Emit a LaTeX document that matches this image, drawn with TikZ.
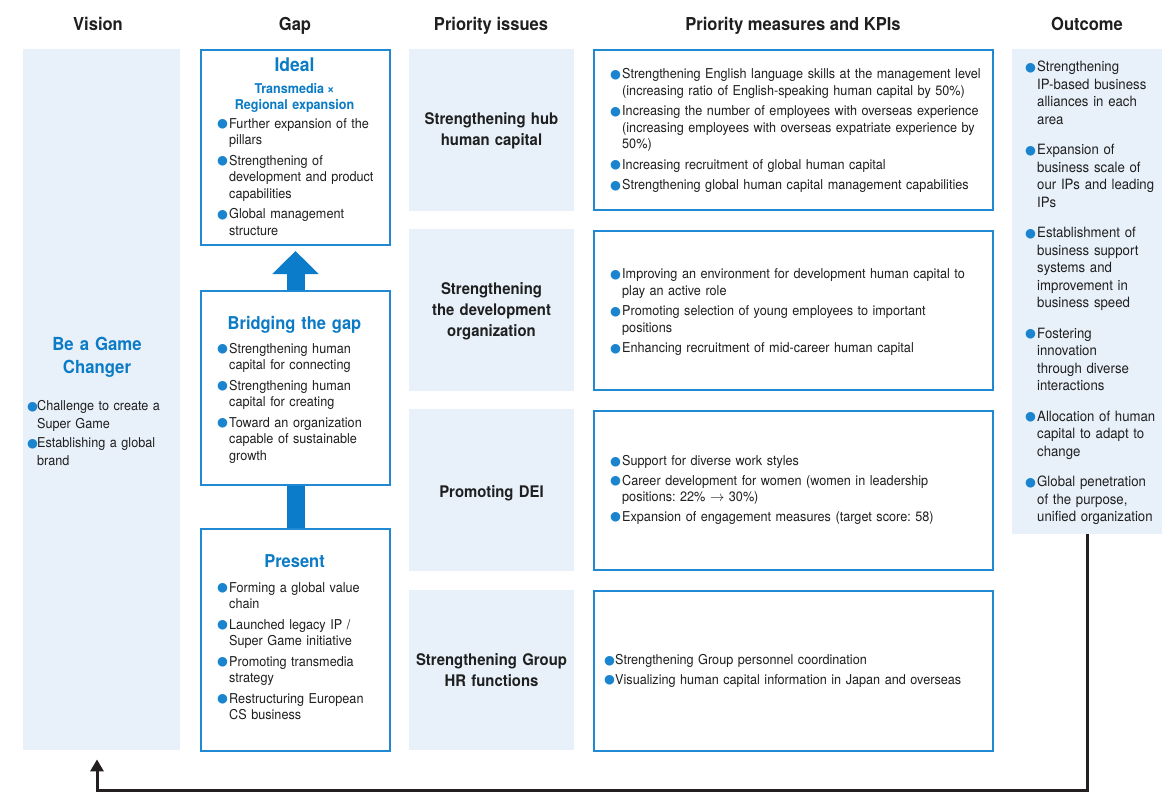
\documentclass[tikz,border=0pt]{standalone}
\usepackage{fontspec}
\setmainfont{TeX Gyre Heros}[FakeStretch=0.93]
\newfontfamily\dejavu{DejaVu Sans}
\usetikzlibrary{arrows.meta}
\definecolor{panelfill}{HTML}{E8F1FA}
\definecolor{boxblue}{HTML}{2189D3}
\definecolor{titleblue}{HTML}{0B7BC6}
\definecolor{bulblue}{HTML}{1B84CF}
\definecolor{arrowblue}{HTML}{0A7CCA}
\definecolor{txt}{HTML}{1F1F1F}
\definecolor{fbline}{HTML}{231F20}
\frenchspacing
\newlength\bind
\newlength\itemgap
\newcommand\bul{\raisebox{0.4pt}{\textcolor{bulblue}{\dejavu\fontsize{12.5}{12.5}\selectfont ●}}}
\newcommand\bi[1]{\noindent\hangindent=\bind\hangafter=1\makebox[\bind][l]{\bul}#1}
\newcommand\bn[1]{\par\vskip\itemgap\bi{#1}}
\newcommand\lsetup[2]{\setlength\parskip{0pt}\setlength\itemgap{#1}\setlength\bind{#2}}
\newcommand\nl{\newline}
\tikzset{
  panel/.style={anchor=north west, fill=panelfill, draw=none, inner sep=0pt},
  gbox/.style={anchor=north west, fill=white, draw=boxblue, line width=2pt, inner sep=0pt},
  hdr/.style={anchor=base, inner sep=0pt, text=txt, font=\fontsize{17.8}{20}\selectfont\bfseries},
  ttl/.style={anchor=base, inner sep=0pt, text=titleblue, font=\fontsize{18}{23}\selectfont\bfseries, align=center, text width=170pt},
  subttl/.style={anchor=base, inner sep=0pt, text=titleblue, font=\fontsize{13.5}{16}\selectfont\bfseries, align=center, text width=180pt},
  iss/.style={anchor=base, inner sep=0pt, text=txt, font=\fontsize{16}{21}\selectfont\bfseries, align=center, text width=165pt},
  lst/.style={anchor=base west, inner sep=0pt, text=txt, align=left, text width=#1, font=\fontsize{13.6}{16.5}\selectfont},
  olst/.style={anchor=base west, inner sep=0pt, text=txt, align=left, text width=#1, font=\fontsize{14.2}{17.5}\selectfont},
  blockarrow/.style={line width=18pt, draw=arrowblue},
  fb/.style={line width=3pt, draw=fbline, -{Triangle[width=13pt,length=12pt]}, shorten >=9pt},
}
\begin{document}
\begin{tikzpicture}[x=1pt,y=-1pt]
\useasboundingbox (0,0) rectangle (1176,809);
\fill[white] (0,0) rectangle (1176,809);

% headers
\node[hdr] (hvision) at (98,30) {Vision};
\node[hdr] (hgap) at (295,30) {Gap};
\node[hdr] (hiss) at (491,30) {Priority issues};
\node[hdr] (hkpi) at (793,30) {Priority measures and KPIs};
\node[hdr] (hout) at (1087,30) {Outcome};

% vision
\node[panel, minimum width=157pt, minimum height=701pt] (vision) at (23,49) {};
\node[ttl] (vtitle) at (97,350.5) {Be a Game\\Changer};
\node[lst=150pt, font=\fontsize{13.6}{18}\selectfont] (vlist) at (27,410.5) {\lsetup{1pt}{10pt}%
\bi{Challenge to create a\nl Super Game}%
\bn{Establishing a global\nl brand}\par};

% gap boxes
\node[gbox, minimum width=189pt, minimum height=195pt] (ideal) at (200,49) {};
\node[gbox, minimum width=189pt, minimum height=194pt] (bridge) at (200,290) {};
\node[gbox, minimum width=189pt, minimum height=222pt] (present) at (200,528) {};

\node[ttl, font=\fontsize{18.8}{23}\selectfont\bfseries] (tideal) at (294.5,71.7) {Ideal};
\node[subttl] (tsub) at (294.5,93.3) {Transmedia\hspace{-1.5pt} ×\\Regional expansion};
\node[lst=175pt] (lideal) at (217,128) {\lsetup{4pt}{12pt}%
\bi{Further expansion of the\nl pillars}%
\bn{Strengthening of\nl development and product\nl capabilities}%
\bn{Global management\nl structure}\par};

\node[ttl, font=\fontsize{17.7}{23}\selectfont\bfseries] (tbridge) at (294.5,329) {Bridging the gap};
\node[lst=175pt] (lbridge) at (217,353) {\lsetup{4pt}{12pt}%
\bi{Strengthening human\nl capital for connecting}%
\bn{Strengthening human\nl capital for creating}%
\bn{Toward an organization\nl capable of sustainable\nl growth}\par};

\node[ttl, font=\fontsize{17.7}{23}\selectfont\bfseries] (tpresent) at (294.5,567.5) {Present};
\node[lst=175pt] (lpresent) at (217,592) {\lsetup{4pt}{12pt}%
\bi{Forming a global value\nl chain}%
\bn{Launched legacy IP /\nl Super Game initiative}%
\bn{Promoting transmedia\nl strategy}%
\bn{Restructuring European\nl CS business}\par};

% gap arrows
\draw[blockarrow, -{Triangle[width=45pt,length=23pt]}, shorten >=5pt] (bridge.north) -- (ideal.south);
\draw[blockarrow] (present.north) -- (bridge.south);

% priority issues
\node[panel, minimum width=165pt, minimum height=162pt] (iss1) at (409,49) {};
\node[panel, minimum width=165pt, minimum height=162pt] (iss2) at (409,229) {};
\node[panel, minimum width=165pt, minimum height=162pt] (iss3) at (409,409) {};
\node[panel, minimum width=165pt, minimum height=160pt] (iss4) at (409,590) {};
\node[iss] (tiss1) at (491.5,124) {Strengthening hub\\human capital};
\node[iss] (tiss2) at (491.5,294) {Strengthening\\the development\\organization};
\node[iss] (tiss3) at (491.5,497) {Promoting DEI};
\node[iss] (tiss4) at (491.5,665) {Strengthening Group\\HR functions};

% KPI boxes
\node[gbox, minimum width=399pt, minimum height=160pt] (kpi1) at (593,49) {};
\node[gbox, minimum width=399pt, minimum height=159pt] (kpi2) at (593,230) {};
\node[gbox, minimum width=399pt, minimum height=159pt] (kpi3) at (593,410) {};
\node[gbox, minimum width=399pt, minimum height=160pt] (kpi4) at (593,590) {};

\node[lst=395pt] (lkpi1) at (610,78.5) {\lsetup{4pt}{12pt}%
\bi{Strengthening English language skills at the management level\nl (increasing ratio of English-speaking human capital by 50\%)}%
\bn{Increasing the number of employees with overseas experience\nl (increasing employees with overseas expatriate experience by\nl 50\%)}%
\bn{Increasing recruitment of global human capital}%
\bn{Strengthening global human capital management capabilities}\par};

\node[lst=395pt] (lkpi2) at (610,278.5) {\lsetup{4pt}{12pt}%
\bi{Improving an environment for development human capital to\nl play an active role}%
\bn{Promoting selection of young employees to important\nl positions}%
\bn{Enhancing recruitment of mid-career human capital}\par};

\node[lst=395pt] (lkpi3) at (610,465.5) {\lsetup{3pt}{12pt}%
\bi{Support for diverse work styles}%
\bn{Career development for women (women in leadership\nl positions: 22\% $\rightarrow$ 30\%)}%
\bn{Expansion of engagement measures (target score: 58)}\par};

\node[lst=395pt] (lkpi4) at (604,664.5) {\lsetup{3pt}{11pt}%
\bi{Strengthening Group personnel coordination}%
\bn{Visualizing human capital information in Japan and overseas}\par};

% outcome
\node[panel, minimum width=150pt, minimum height=485pt] (outcome) at (1012,49) {};
\node[olst=145pt] (lout) at (1025,71.5) {\lsetup{13pt}{12pt}%
\bi{Strengthening\nl IP-based business\nl alliances in each\nl area}%
\bn{Expansion of\nl business scale of\nl our IPs and leading\nl IPs}%
\bn{Establishment of\nl business support\nl systems and\nl improvement in\nl business speed}%
\bn{Fostering\nl innovation\nl through diverse\nl interactions}%
\bn{Allocation of human\nl capital to adapt to\nl change}%
\bn{Global penetration\nl of the purpose,\nl unified organization}\par};

% feedback connector
\coordinate (fbc) at (97,790);
\draw[fb] (outcome.south) |- (fbc) -- (fbc |- vision.south);
\end{tikzpicture}
\end{document}
